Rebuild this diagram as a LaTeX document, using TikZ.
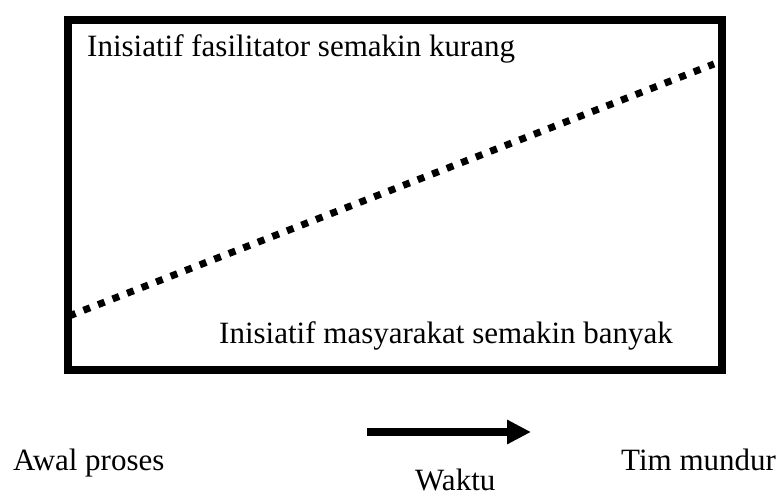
\documentclass[tikz,border=0pt]{standalone}
\usepackage{fontspec}
\setmainfont{Liberation Serif}
\usetikzlibrary{arrows.meta}
\begin{document}
\begin{tikzpicture}[x=1pt,y=-1pt,
  lbl/.style={inner sep=0pt,font=\fontsize{31}{37}\selectfont},
  frame/.style={draw=black,line width=8pt},
  trend/.style={line width=7pt,dash pattern=on 7pt off 8.6pt,line cap=butt},
  timearrow/.style={line width=8pt,-{Triangle[length=24pt,width=23pt]}}]
\useasboundingbox (0,0) rectangle (779,497);
\node[frame,minimum width=654pt,minimum height=350pt,inner sep=0pt,anchor=north west] (box) at (64,16) {};
\coordinate (s) at (69,316);
\coordinate (e) at (714,64);
\draw[trend] (s) -- (e);
\node[lbl,anchor=base west] (t1) at (87,57) {Inisiatif fasilitator semakin kurang};
\node[lbl,anchor=base west] (t2) at (219,343) {Inisiatif masyarakat semakin banyak};
\coordinate (a1) at (367,432);
\coordinate (a2) at (531,432);
\draw[timearrow] (a1) -- (a2);
\node[lbl,anchor=base west] (aw) at (13,470) {Awal proses};
\node[lbl,anchor=base west] (wk) at (415,490) {Waktu};
\node[lbl,anchor=base west] (tm) at (621,470) {Tim mundur};
\end{tikzpicture}
\end{document}
